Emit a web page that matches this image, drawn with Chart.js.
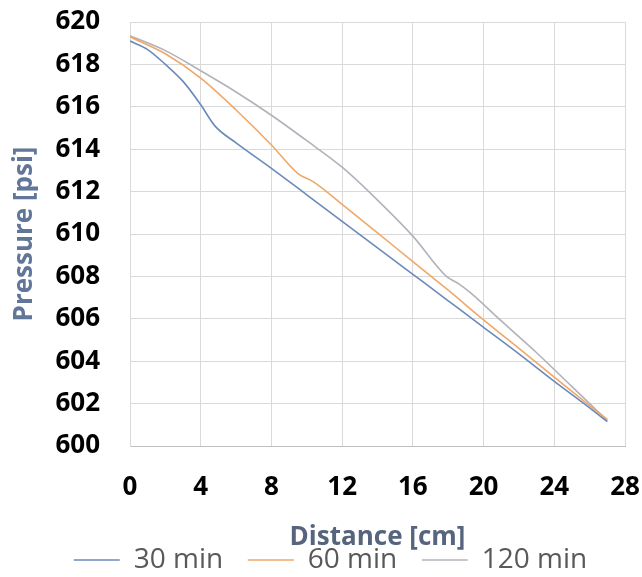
<!DOCTYPE html>
<html>
<head>
<meta charset="utf-8">
<script src="https://cdn.jsdelivr.net/npm/chart.js@4.4.0/dist/chart.umd.min.js"></script>
<style>
    html, body { margin: 0; padding: 0; background: #fff; }
    #wrap { width: 642px; height: 577px; }
</style>
</head>
<body>
<div id="wrap"><canvas id="chart"></canvas></div>
<script>
// distance along the core [cm] and pressure [psi] at each sample
const dist30 = [0, 1, 2, 3, 4, 4.8, 6, 8, 10, 12, 14, 16, 18, 20, 22, 24, 26, 27];
const p30 = [619.1, 618.7, 618.0, 617.2, 616.1, 615.1, 614.3, 613.1, 611.85, 610.6, 609.35, 608.1, 606.85, 605.6, 604.35, 603.05, 601.8, 601.15];

const dist60 = [0, 2, 4, 6, 8, 9.5, 10.4, 12, 14, 16, 18, 20, 22, 24, 26, 27];
const p60 = [619.3, 618.5, 617.35, 615.85, 614.2, 612.85, 612.45, 611.4, 610.05, 608.7, 607.35, 605.95, 604.6, 603.25, 601.9, 601.25];

const dist120 = [0, 2, 4, 6, 8, 10, 12, 14, 16, 17.9, 18.6, 19.3, 21, 23, 25, 27];
const p120 = [619.35, 618.65, 617.7, 616.7, 615.6, 614.4, 613.15, 611.6, 609.9, 608.0, 607.65, 607.2, 605.9, 604.4, 602.8, 601.2];

const seriesNames = ["30 min", "60 min", "120 min"];
const xTicks = [0, 4, 8, 12, 16, 20, 24, 28];
const yTicks = [600, 602, 604, 606, 608, 610, 612, 614, 616, 618, 620];

const colors = ["#6a8abb", "#f0a868", "#b2b2ba"];
const fontFamily = "'Open Sans', 'DejaVu Sans', sans-serif";
const hidden = "rgba(0,0,0,0)";

const toPoints = (xs, ys) => xs.map((x, i) => ({ x: x, y: ys[i] }));

const line = (label, data, color) => ({
    label: label,
    data: data,
    borderColor: color,
    backgroundColor: color,
    borderWidth: 1.6,
    pointRadius: 0,
    cubicInterpolationMode: "monotone",
    fill: false
});

new Chart(document.getElementById("chart"), {
    type: "line",
    data: {
        datasets: [
            line(seriesNames[0], toPoints(dist30, p30), colors[0]),
            line(seriesNames[1], toPoints(dist60, p60), colors[1]),
            line(seriesNames[2], toPoints(dist120, p120), colors[2]),
        ]
    },
    options: {
        responsive: true,
        maintainAspectRatio: false,
        animation: false,
        layout: {
            // left padding nudges the legend right; the y axis box gives it back
            padding: { top: 22, right: 17, bottom: -7, left: 36 }
        },
        plugins: {
            tooltip: { enabled: false },
            legend: {
                position: "bottom",
                labels: {
                    usePointStyle: true,
                    pointStyle: "line",
                    pointStyleWidth: 46,
                    padding: 10,
                    color: "#595959",
                    font: { family: fontFamily, size: 28, lineHeight: 1 },
                    // wider gap between entries without making the legend taller
                    generateLabels: chart => Chart.defaults.plugins.legend.labels.generateLabels(chart)
                        .map((item, i, all) => ({ ...item, text: i < all.length - 1 ? item.text + "  " : item.text }))
                }
            }
        },
        scales: {
            x: {
                type: "linear",
                min: 0,
                max: 28,
                afterBuildTicks: scale => {
                    scale.ticks = xTicks.map(v => ({ value: v }));
                },
                afterFit: scale => {
                    scale.height = 90;
                },
                // an invisible tick mark does the spacing, ticks.padding would also grow the side margins
                grid: { color: "#d9d9d9", drawTicks: true, tickLength: 29, tickColor: hidden },
                border: { color: "#bfbfbf" },
                ticks: {
                    padding: 0,
                    color: "#000",
                    maxRotation: 0,
                    font: { family: fontFamily, size: 26, weight: "bold", lineHeight: 1 }
                },
                title: {
                    display: true,
                    text: "Distance [cm]",
                    color: "#56657d",
                    padding: { top: 0, bottom: -15 },
                    font: { family: fontFamily, size: 26, weight: "bold", lineHeight: 1 }
                }
            },
            y: {
                type: "linear",
                min: 600,
                max: 620,
                afterBuildTicks: scale => {
                    scale.ticks = yTicks.map(v => ({ value: v }));
                },
                afterFit: scale => {
                    scale.width = 94;
                },
                grid: { color: "#d9d9d9", drawTicks: true, tickLength: 30, tickColor: hidden },
                border: { color: "#d9d9d9" },
                ticks: {
                    padding: 0,
                    color: "#000",
                    font: { family: fontFamily, size: 26, weight: "bold", lineHeight: 1 }
                },
                title: {
                    display: true,
                    text: "Pressure [psi]",
                    color: "#62769a",
                    padding: { top: -24, bottom: 0 },
                    font: { family: fontFamily, size: 26, weight: "bold", lineHeight: 1 }
                }
            }
        }
    }
});
</script>
</body>
</html>
